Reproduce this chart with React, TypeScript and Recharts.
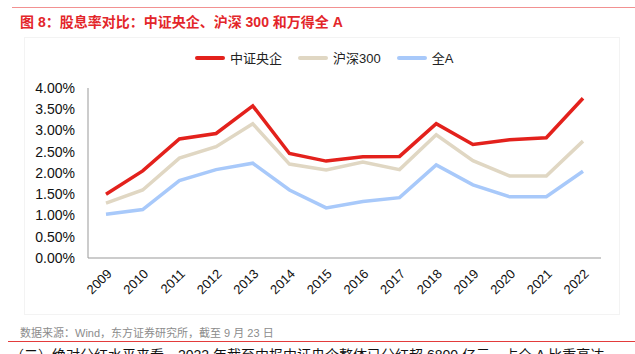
import React from 'react'
import { LineChart, Line, XAxis, YAxis } from 'recharts'

// 股息率（%）
const years = ['2009', '2010', '2011', '2012', '2013', '2014', '2015', '2016', '2017', '2018', '2019', '2020', '2021', '2022']
const centralSoe = [1.5, 2.05, 2.8, 2.93, 3.58, 2.46, 2.28, 2.38, 2.39, 3.16, 2.67, 2.78, 2.83, 3.76]
const hs300 = [1.29, 1.6, 2.35, 2.62, 3.16, 2.21, 2.07, 2.26, 2.08, 2.9, 2.29, 1.93, 1.93, 2.75]
const allA = [1.03, 1.14, 1.82, 2.08, 2.23, 1.6, 1.18, 1.33, 1.42, 2.19, 1.72, 1.44, 1.44, 2.04]
const yTicks = [0, 0.5, 1, 1.5, 2, 2.5, 3, 3.5, 4]
const boxTicks = [0, 1, 2, 3, 4, 5, 6, 7, 8, 9, 10, 11, 12, 13, 14]

const series = [
  { key: 'soe', name: '中证央企', color: '#E3211C', values: centralSoe },
  { key: 'hs300', name: '沪深300', color: '#E0D7C3', values: hs300 },
  { key: 'allA', name: '全A', color: '#A8C9FA', values: allA },
]

const data = years.map((year, i) => ({
  year,
  soe: centralSoe[i],
  hs300: hs300[i],
  allA: allA[i],
}))

const font = '"Liberation Sans", Arial, "Noto Sans CJK SC", sans-serif'

export default function App() {
  return (
    <div style={{ position: 'absolute', left: 0, top: 0, width: 635, height: 354, background: '#fff', overflow: 'hidden', fontFamily: font }}>
      <div style={{ position: 'absolute', left: 12, top: 7, width: 623, height: 1, background: '#F29191' }} />
      <div style={{ position: 'absolute', left: 20, top: 11, fontSize: 14, fontWeight: 'bold', color: '#E3262A', whiteSpace: 'nowrap' }}>
        图 8：股息率对比：中证央企、沪深 300 和万得全 A
      </div>
      <div style={{ position: 'absolute', left: 24, top: 37, width: 594, height: 276, border: '1px solid #F3F3F3' }} />

      <div style={{ position: 'absolute', left: 195, top: 48, display: 'flex', alignItems: 'center', fontSize: 13, color: '#222' }}>
        {series.map(s => (
          <div key={s.key} style={{ display: 'flex', alignItems: 'center', marginRight: 16 }}>
            <div style={{ width: 30, height: 4, borderRadius: 2, background: s.color, marginRight: 5 }} />
            <span>{s.name}</span>
          </div>
        ))}
      </div>

      <div style={{ position: 'absolute', left: 0, top: 0 }}>
        <LineChart width={635} height={320} data={data} margin={{ top: 88, right: 34, bottom: 13, left: 0 }}>
          <XAxis
            xAxisId="box"
            type="number"
            domain={[0, 14]}
            ticks={boxTicks}
            allowDataOverflow
            height={1}
            mirror
            tick={false}
            tickSize={4}
            axisLine={{ stroke: '#999' }}
            tickLine={{ stroke: '#999' }}
          />
          <XAxis
            xAxisId="cat"
            dataKey="year"
            height={49}
            interval={0}
            padding={{ left: 18, right: 18 }}
            axisLine={false}
            tickLine={false}
            tickSize={6}
            tickMargin={4}
            angle={-45}
            textAnchor="end"
            tick={{ fill: '#111', fontSize: 13, fontFamily: font }}
          />
          <YAxis
            width={88}
            domain={[0, 4]}
            ticks={yTicks}
            interval={0}
            tickLine={false}
            tickSize={6}
            tickMargin={7}
            axisLine={{ stroke: '#999' }}
            tickFormatter={(v: number) => `${v.toFixed(2)}%`}
            tick={{ fill: '#111', fontSize: 14, fontFamily: font }}
          />
          {series.map(s => (
            <Line
              key={s.key}
              xAxisId="cat"
              dataKey={s.key}
              name={s.name}
              type="linear"
              stroke={s.color}
              strokeWidth={3.5}
              dot={false}
              isAnimationActive={false}
            />
          )).reverse()}
        </LineChart>
      </div>

      <div style={{ position: 'absolute', left: 20, top: 324, fontSize: 11, color: '#8C8C8C', whiteSpace: 'nowrap' }}>
        数据来源：Wind，东方证券研究所，截至 9 月 23 日
      </div>
      <div style={{ position: 'absolute', left: 8, top: 341, width: 627, height: 1, background: '#E33B3B' }} />
      <div style={{ position: 'absolute', left: 10, top: 344, fontSize: 14, color: '#111', whiteSpace: 'nowrap' }}>
        （二）绝对分红水平来看，2022 年截至中报中证央企整体已分红超 6800 亿元，占全 A 比重高达
      </div>
    </div>
  )
}
